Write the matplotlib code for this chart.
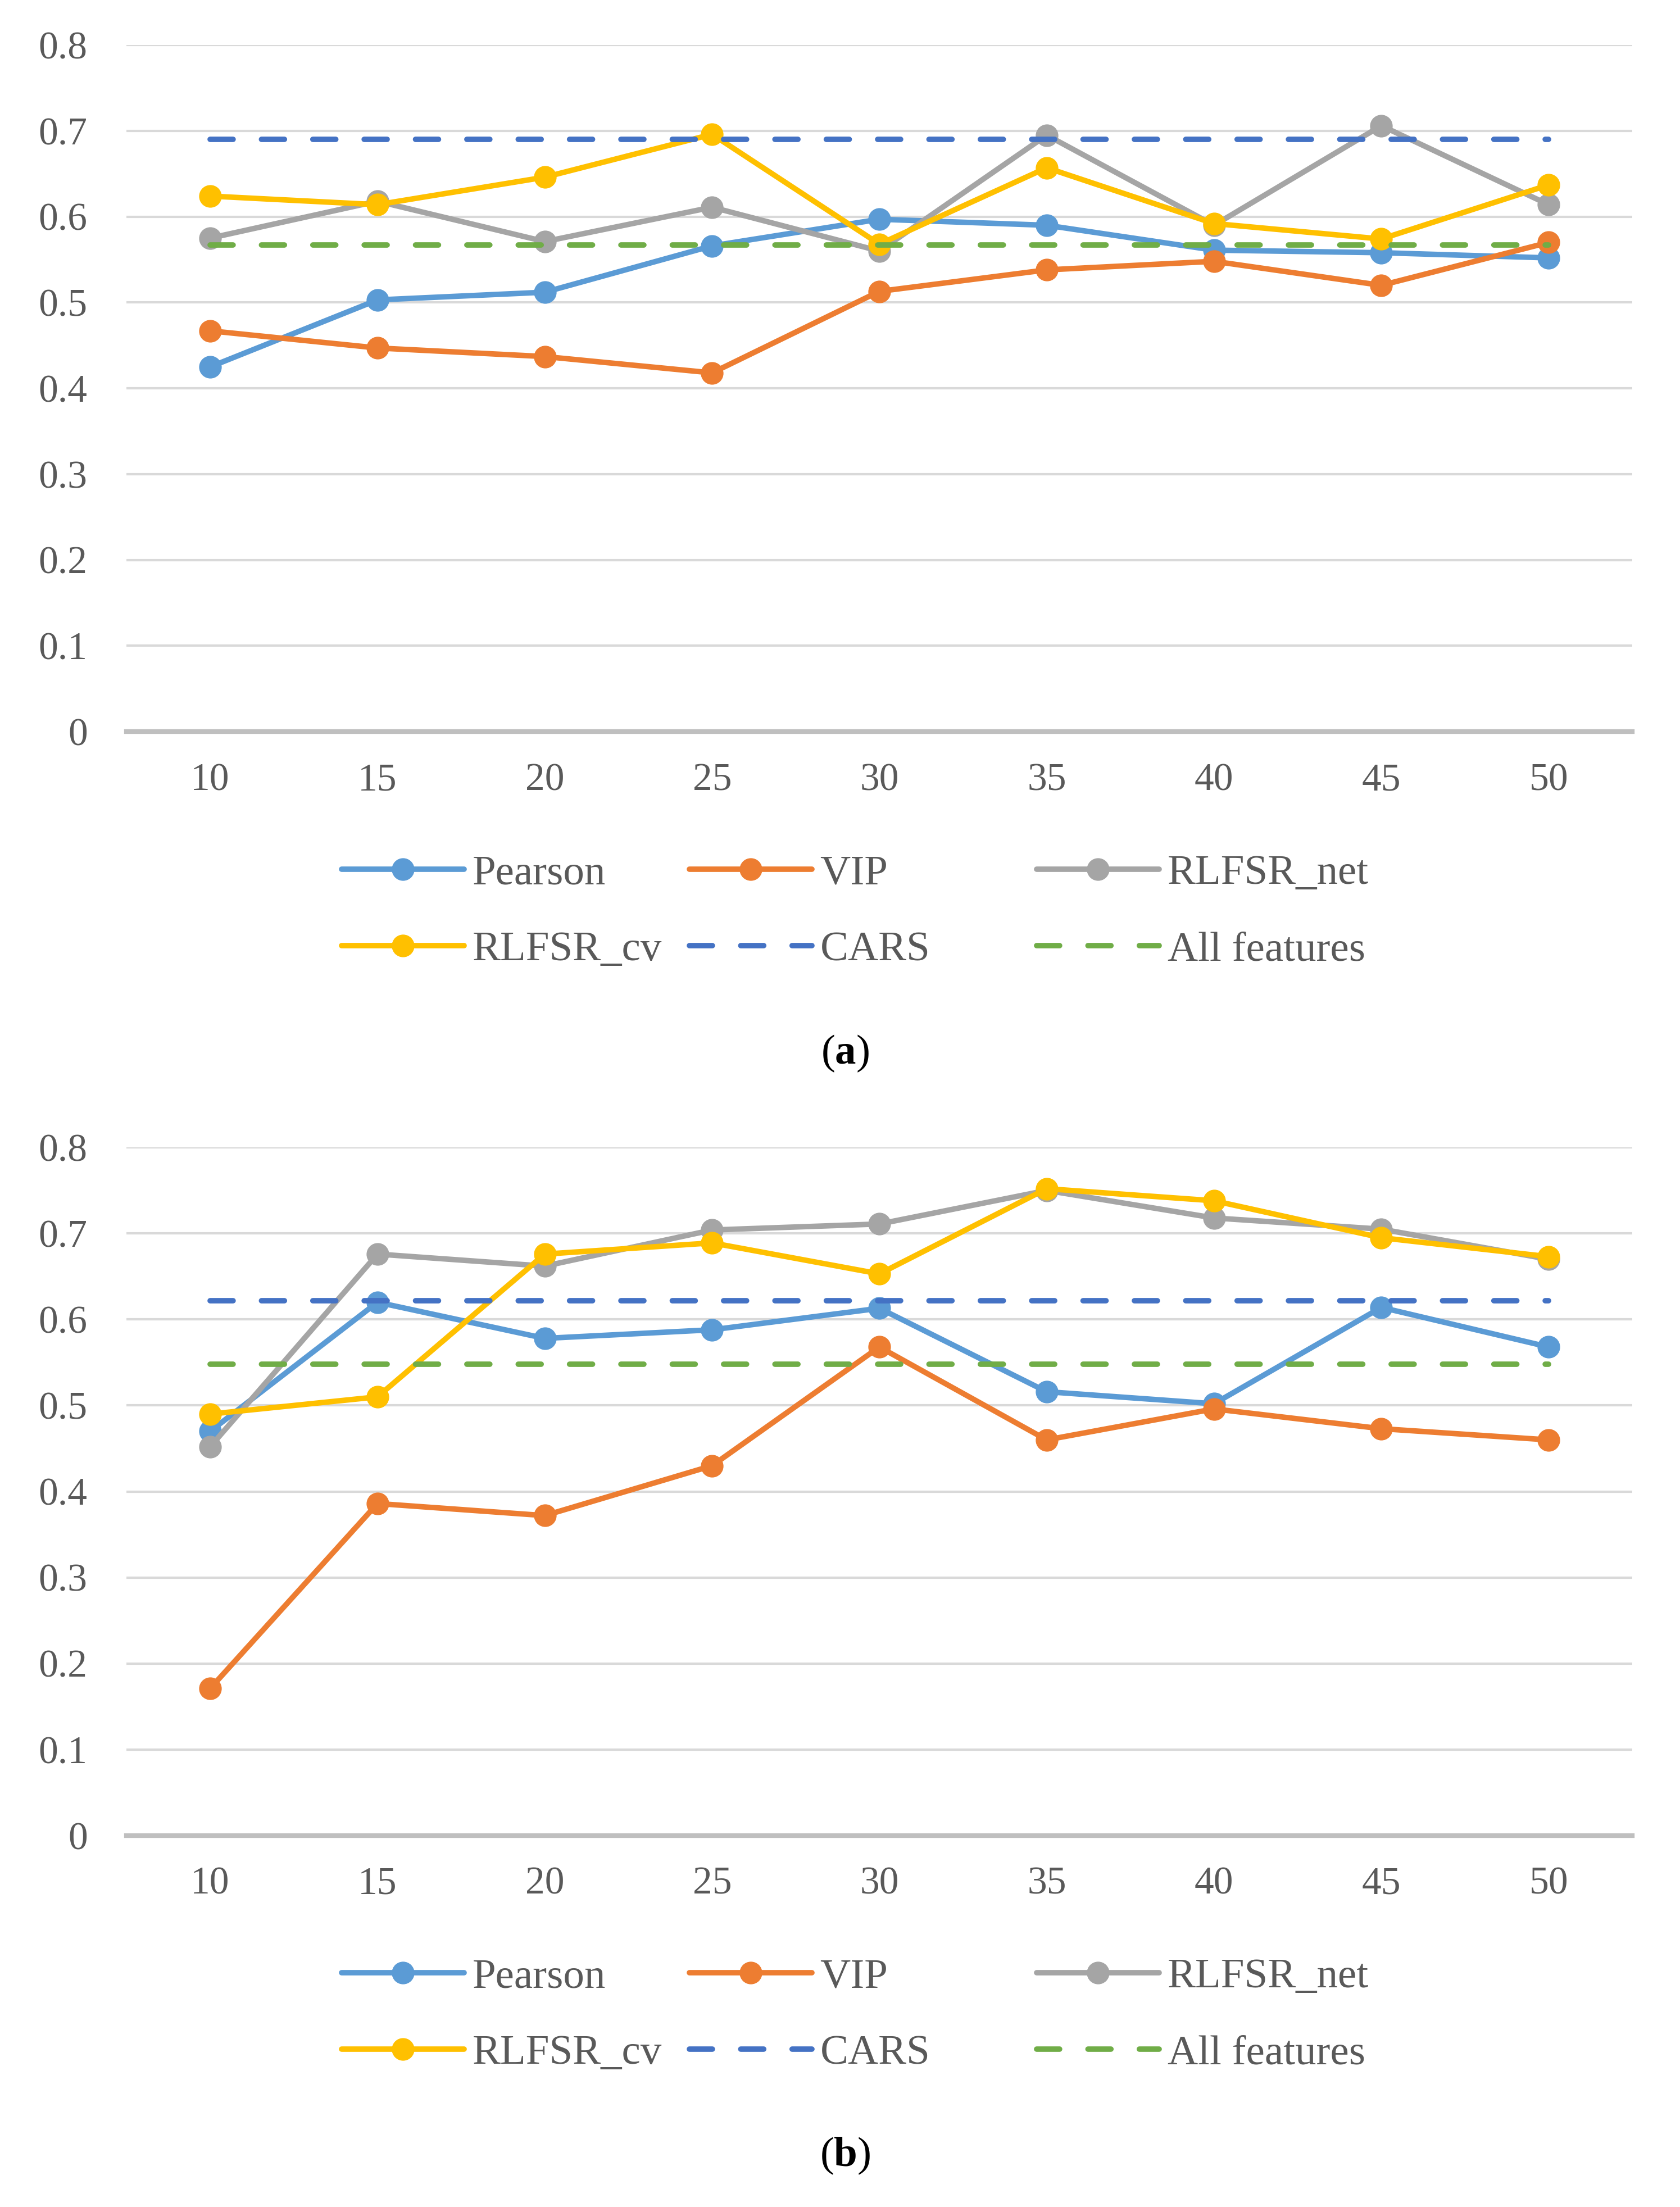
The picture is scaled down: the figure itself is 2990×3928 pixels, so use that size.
import numpy as np
import matplotlib
matplotlib.use('Agg')
import matplotlib.pyplot as plt

plt.rcParams['font.family'] = ['Liberation Serif', 'DejaVu Serif']
plt.rcParams['mathtext.fontset'] = 'custom'
plt.rcParams['mathtext.rm'] = 'Liberation Serif'
plt.rcParams['mathtext.bf'] = 'Liberation Serif:bold'

# number of selected features
n_features = [10, 15, 20, 25, 30, 35, 40, 45, 50]

# panel (a)
pearson_a = [0.425, 0.503, 0.512, 0.566, 0.597, 0.590, 0.561, 0.558, 0.552]
vip_a = [0.467, 0.447, 0.437, 0.418, 0.513, 0.538, 0.548, 0.520, 0.570]
net_a = [0.575, 0.618, 0.571, 0.611, 0.560, 0.695, 0.590, 0.706, 0.614]
cv_a = [0.624, 0.614, 0.646, 0.696, 0.568, 0.657, 0.592, 0.574, 0.637]
cars_a = 0.690
all_a = 0.567

# panel (b)
pearson_b = [0.470, 0.620, 0.578, 0.588, 0.613, 0.516, 0.502, 0.614, 0.568]
vip_b = [0.171, 0.386, 0.372, 0.430, 0.568, 0.460, 0.496, 0.473, 0.460]
net_b = [0.452, 0.676, 0.662, 0.704, 0.711, 0.750, 0.718, 0.705, 0.670]
cv_b = [0.490, 0.510, 0.676, 0.689, 0.653, 0.752, 0.738, 0.695, 0.673]
cars_b = 0.622
all_b = 0.548

y_ticks = [0, 0.1, 0.2, 0.3, 0.4, 0.5, 0.6, 0.7, 0.8]
y_labels = ['0', '0.1', '0.2', '0.3', '0.4', '0.5', '0.6', '0.7', '0.8']

colors = {'Pearson': '#5B9BD5', 'VIP': '#ED7D31', 'RLFSR_net': '#A5A5A5',
          'RLFSR_cv': '#FFC000', 'CARS': '#4472C4', 'All features': '#70AD47'}
text_color = '#595959'
lw = 7


def draw_panel(ax, pearson, vip, net, cv, cars, allf):
    handles = []
    for name, vals in [('Pearson', pearson), ('VIP', vip),
                       ('RLFSR_net', net), ('RLFSR_cv', cv)]:
        h, = ax.plot(n_features, vals, color=colors[name], lw=lw, marker='o',
                     markersize=28, label=name, solid_capstyle='round',
                     solid_joinstyle='round')
        handles.append(h)
    for name, val in [('CARS', cars), ('All features', allf)]:
        h, = ax.plot([n_features[0], n_features[-1]], [val, val],
                     color=colors[name], lw=lw, label=name,
                     dashes=(4.2, 5.2), dash_capstyle='round')
        handles.append(h)

    ax.set_xlim(7.5, 52.5)
    ax.set_ylim(0, 0.8)
    ax.set_xticks(n_features)
    ax.set_xticklabels([str(v) for v in n_features])
    ax.set_yticks(y_ticks)
    ax.set_yticklabels(y_labels)
    ax.yaxis.grid(True, color='#D9D9D9', lw=3)
    ax.set_axisbelow(True)
    for s in ['top', 'left', 'right']:
        ax.spines[s].set_visible(False)
    ax.spines['bottom'].set_color('#BFBFBF')
    ax.spines['bottom'].set_linewidth(6)
    ax.tick_params(axis='both', length=0, labelsize=50, labelcolor=text_color)
    ax.tick_params(axis='y', pad=50)
    ax.tick_params(axis='x', pad=40)
    return handles


fig = plt.figure(figsize=(29.9, 39.28), dpi=100)
ax_a = fig.add_axes([0.0753, 0.6685, 0.8963, 0.3111])
ax_b = fig.add_axes([0.0753, 0.1683, 0.8963, 0.3118])

panels = [(ax_a, (pearson_a, vip_a, net_a, cv_a, cars_a, all_a), 0.5868, 0.5225, 'a'),
          (ax_b, (pearson_b, vip_b, net_b, cv_b, cars_b, all_b), 0.0868, 0.0230, 'b')]

col_x = [0.2034, 0.4104, 0.6171]
for ax, data, leg_y, cap_y, letter in panels:
    hs = draw_panel(ax, *data)
    columns = [[hs[0], hs[3]], [hs[1], hs[4]], [hs[2], hs[5]]]
    for x, col in zip(col_x, columns):
        leg = fig.legend(handles=col, loc='center left', bbox_to_anchor=(x, leg_y),
                         frameon=False, fontsize=54, borderpad=0, borderaxespad=0,
                         handlelength=2.9, handletextpad=0.2, labelspacing=0.9)
        for t in leg.get_texts():
            t.set_color(text_color)
    fig.text(0.503, cap_y, r'($\mathbf{' + letter + '}$)', ha='center', va='center',
             fontsize=54, color='black')

fig.savefig('out.png', dpi=100)
